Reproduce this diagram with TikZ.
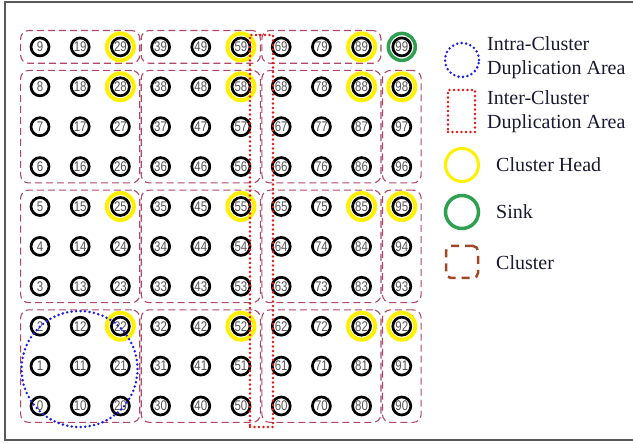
\documentclass[tikz,border=0pt]{standalone}
\usepackage{fontspec}
\setmainfont{Liberation Serif}
\newfontfamily\numfont[FakeStretch=0.82]{Liberation Sans}
\usetikzlibrary{fit}
\definecolor{clusterred}{RGB}{176,72,104}
\definecolor{keybrown}{RGB}{160,72,40}
\definecolor{headyellow}{RGB}{255,240,0}
\definecolor{sinkgreen}{RGB}{46,160,80}
\definecolor{dupblue}{RGB}{30,30,230}
\definecolor{dupred}{RGB}{230,20,20}
\definecolor{legendink}{RGB}{25,25,50}
\definecolor{framegray}{RGB}{90,90,90}
\begin{document}
\begin{tikzpicture}[
    x=1pt, y=-1pt,
    sensor/.style={circle, draw=black, line width=2.7pt, minimum size=18pt, inner sep=0pt, text=black!65, font=\numfont\fontsize{14}{14}\selectfont},
    headring/.style={circle, draw=headyellow, line width=4pt, minimum size=27pt, inner sep=0pt},
    sinkring/.style={headring, draw=sinkgreen, line width=3.5pt},
    cluster/.style={draw=clusterred, line width=1.1pt, dash pattern=on 7pt off 4pt, rounded corners=8pt, inner xsep=9pt, inner ysep=6pt},
    intraarea/.style={circle, draw=dupblue, line width=2.8pt, dash pattern=on 0pt off 4.5pt, line cap=round, inner sep=0pt},
    interarea/.style={rectangle, draw=dupred, line width=2.8pt, dash pattern=on 0pt off 4.5pt, line cap=round, inner sep=0pt},
    clusterkey/.style={rectangle, draw=keybrown, line width=2.5pt, dash pattern=on 8pt off 6pt, rounded corners=5pt, inner sep=0pt},
    legtext/.style={anchor=west, inner sep=0pt, align=left, text=legendink, font=\fontsize{20}{24}\selectfont}
  ]
  \useasboundingbox (0,0) rectangle (633,443);
  \draw[framegray, line width=2pt] (633,2) -- (5,2) -- (5,440) -- (633,440);
  \foreach \c in {0,...,9} {
    \foreach \r in {0,...,9} {
      \pgfmathtruncatemacro{\id}{10*\c+\r}
      \node[sensor] (n\id) at ({40+40.2*\c},{406-39.9*\r}) {\id};
    }
  }
  \foreach \a/\b [count=\k] in {9/29, 39/59, 69/89, 6/28, 36/58, 66/88, 96/98,
      3/25, 33/55, 63/85, 93/95, 0/22, 30/52, 60/82, 90/92} {
    \node[cluster, fit=(n\a)(n\b)] (cl\k) {};
  }
  \foreach \h in {29,59,89,28,58,88,98,25,55,85,95,22,52,82,92} {
    \node[headring] (h\h) at (n\h) {};
  }
  \node[sinkring] (sink) at (n99) {};
  \node[interarea, minimum width=23pt, minimum height=392pt] (inter) at (261.5,231) {};
  \node[intraarea, minimum size=116pt] (intra) at (79.5,369) {};
  \node[intraarea, minimum size=34pt] (kintra) at (462,60) {};
  \node[interarea, minimum width=27pt, minimum height=42pt] (kinter) at (461.5,111) {};
  \node[headring, line width=3pt, minimum size=33pt] (khead) at (462,165) {};
  \node[sinkring, minimum size=33pt] (ksink) at (462,212) {};
  \node[clusterkey, minimum size=32pt] (kcluster) at (462,262) {};
  \node[legtext] (tintra) at (487,58) {Intra-Cluster\\Duplication Area};
  \node[legtext] (tinter) at (487,112) {Inter-Cluster\\Duplication Area};
  \node[legtext] (thead) at (496,165) {Cluster Head};
  \node[legtext] (tsink) at (496,212) {Sink};
  \node[legtext] (tcluster) at (496,263) {Cluster};
\end{tikzpicture}
\end{document}
